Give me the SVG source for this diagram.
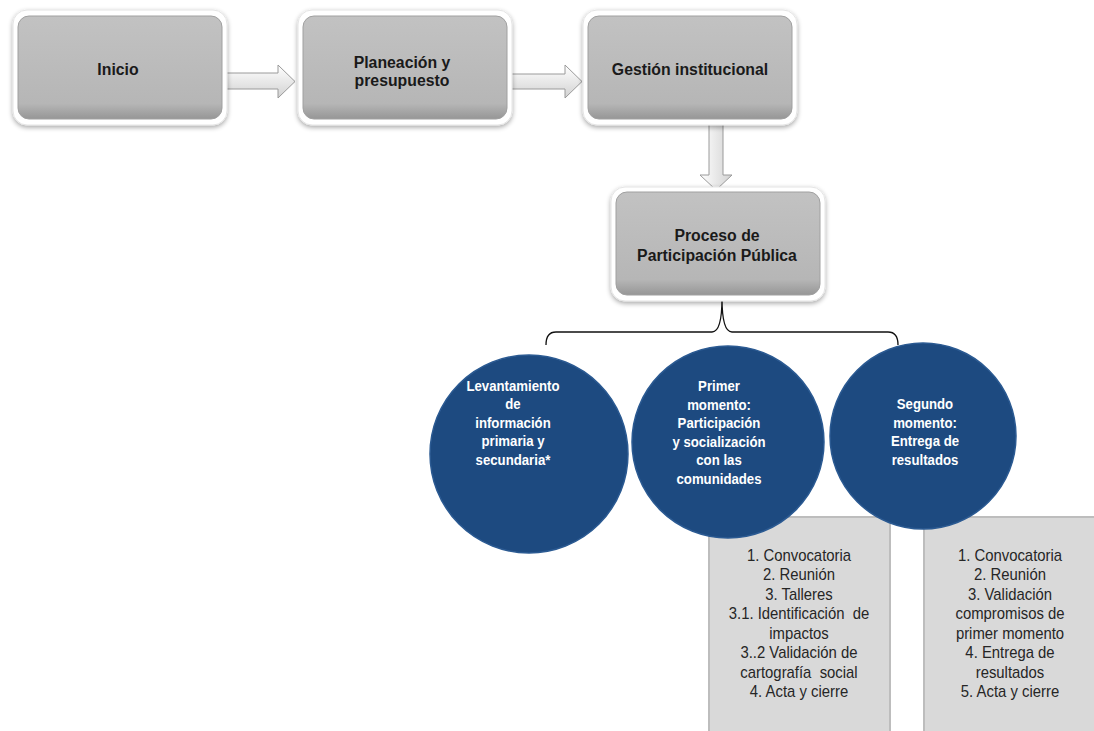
<svg xmlns="http://www.w3.org/2000/svg" width="1094" height="731" viewBox="0 0 1094 731">
<defs>
<linearGradient id="gBox" x1="0" y1="0" x2="0" y2="1">
<stop offset="0" stop-color="#c2c2c2"/>
<stop offset="0.85" stop-color="#b6b6b6"/>
<stop offset="1" stop-color="#969696"/>
</linearGradient>
<linearGradient id="gArrH" x1="0" y1="0" x2="0" y2="1">
<stop offset="0" stop-color="#ffffff"/>
<stop offset="1" stop-color="#d2d2d2"/>
</linearGradient>
<linearGradient id="gArrV" x1="0" y1="0" x2="1" y2="0">
<stop offset="0" stop-color="#ffffff"/>
<stop offset="1" stop-color="#d2d2d2"/>
</linearGradient>
<filter id="sh" x="-10%" y="-10%" width="120%" height="130%">
<feGaussianBlur in="SourceAlpha" stdDeviation="2.5"/>
<feOffset dy="2" result="b"/>
<feComponentTransfer><feFuncA type="linear" slope="0.35"/></feComponentTransfer>
<feMerge><feMergeNode/><feMergeNode in="SourceGraphic"/></feMerge>
</filter>
</defs>
<style>
.frame{fill:#ffffff;stroke:#e4e4e4;stroke-width:1}
.box{fill:url(#gBox);stroke:#a0a0a0;stroke-width:1}
.bt{font-family:"Liberation Sans",Arial,sans-serif;font-weight:bold;font-size:17px;fill:#1a1a1a;text-anchor:middle}
.circ{fill:#1d4a80;stroke:#2b5a92;stroke-width:1.5}
.ct{font-family:"Liberation Sans",Arial,sans-serif;font-weight:bold;font-size:15px;fill:#ffffff;text-anchor:middle}
.list{fill:#d9d9d9;stroke:#bdbdbd;stroke-width:2}
.lt{font-family:"Liberation Sans",Arial,sans-serif;font-size:16px;fill:#262626;text-anchor:middle}
.arrH{fill:url(#gArrH);stroke:#9a9a9a;stroke-width:1}
.arrV{fill:url(#gArrV);stroke:#9a9a9a;stroke-width:1}
.brace{fill:none;stroke:#111111;stroke-width:1.3}
</style>
<rect width="1094" height="731" fill="#ffffff"/>

<g id="connectors">
<polygon class="arrH" points="224,73 278,73 278,65 295,81.5 278,98 278,89 224,89"/>
<polygon class="arrH" points="510,74 565,74 565,65 582,81.5 565,98 565,89 510,89"/>
<polygon class="arrV" points="709,122 723,122 723,175 732,175 716,190 700,175 709,175"/>
<path class="brace" d="M546,345 Q546,332 556,332 L712,332 Q722,332 722,298 Q722,332 732,332 L888,332 Q898,332 898,345"/>
</g>

<g id="node-inicio">
<rect class="frame" x="13" y="10" width="214" height="115" rx="14" filter="url(#sh)"/>
<rect class="box" x="18" y="16" width="204" height="103" rx="11"/>
<g transform="matrix(0.93,0,0,1,8.26,0)">
<text class="bt" x="118" y="75">Inicio</text>
</g>
</g>

<g id="node-planeacion">
<rect class="frame" x="298" y="10" width="214" height="115" rx="14" filter="url(#sh)"/>
<rect class="box" x="303" y="16" width="204" height="103" rx="11"/>
<g transform="matrix(0.93,0,0,1,28.14,0)">
<text class="bt" x="402" y="68">Planeación y</text>
<text class="bt" x="402" y="86">presupuesto</text>
</g>
</g>

<g id="node-gestion">
<rect class="frame" x="583" y="10" width="214" height="115" rx="14" filter="url(#sh)"/>
<rect class="box" x="588" y="16" width="204" height="103" rx="11"/>
<g transform="matrix(0.93,0,0,1,48.3,0)">
<text class="bt" x="690" y="75">Gestión institucional</text>
</g>
</g>

<g id="node-proceso">
<rect class="frame" x="611" y="187" width="214" height="114" rx="14" filter="url(#sh)"/>
<rect class="box" x="616" y="192" width="204" height="103" rx="11"/>
<g transform="matrix(0.93,0,0,1,50.19,0)">
<text class="bt" x="717" y="241">Proceso de</text>
<text class="bt" x="717" y="261">Participación Pública</text>
</g>
</g>

<g id="list-primer">
<rect class="list" x="709" y="517" width="181" height="220"/>
<g transform="matrix(0.93,0,0,1,55.93,0)">
<text class="lt" x="799" y="561">1. Convocatoria</text>
<text class="lt" x="799" y="580.5">2. Reunión</text>
<text class="lt" x="799" y="600">3. Talleres</text>
<text class="lt" x="799" y="619.5" xml:space="preserve">3.1. Identificación  de</text>
<text class="lt" x="799" y="639">impactos</text>
<text class="lt" x="799" y="658.5">3..2 Validación de</text>
<text class="lt" x="799" y="678" xml:space="preserve">cartografía  social</text>
<text class="lt" x="799" y="697.5">4. Acta y cierre</text>
</g>
</g>

<g id="list-segundo">
<rect class="list" x="924" y="517" width="171" height="220"/>
<g transform="matrix(0.93,0,0,1,70.7,0)">
<text class="lt" x="1010" y="561">1. Convocatoria</text>
<text class="lt" x="1010" y="580.5">2. Reunión</text>
<text class="lt" x="1010" y="600">3. Validación</text>
<text class="lt" x="1010" y="619.5">compromisos de</text>
<text class="lt" x="1010" y="639">primer momento</text>
<text class="lt" x="1010" y="658.5">4. Entrega de</text>
<text class="lt" x="1010" y="678">resultados</text>
<text class="lt" x="1010" y="697.5">5. Acta y cierre</text>
</g>
</g>

<g id="node-levantamiento">
<circle class="circ" cx="529" cy="454" r="99"/>
<g transform="matrix(0.88,0,0,1,61.56,0)">
<text class="ct" x="513" y="391">Levantamiento</text>
<text class="ct" x="513" y="409.5">de</text>
<text class="ct" x="513" y="428">información</text>
<text class="ct" x="513" y="446.5">primaria y</text>
<text class="ct" x="513" y="465">secundaria*</text>
</g>
</g>

<g id="node-primer">
<circle class="circ" cx="728" cy="442" r="96"/>
<g transform="matrix(0.88,0,0,1,86.28,0)">
<text class="ct" x="719" y="391.5">Primer</text>
<text class="ct" x="719" y="410">momento:</text>
<text class="ct" x="719" y="428.5">Participación</text>
<text class="ct" x="719" y="447">y socialización</text>
<text class="ct" x="719" y="465.5">con las</text>
<text class="ct" x="719" y="484.5">comunidades</text>
</g>
</g>

<g id="node-segundo">
<circle class="circ" cx="923" cy="436" r="93"/>
<g transform="matrix(0.88,0,0,1,111,0)">
<text class="ct" x="925" y="409.5">Segundo</text>
<text class="ct" x="925" y="428">momento:</text>
<text class="ct" x="925" y="446.5">Entrega de</text>
<text class="ct" x="925" y="465.5">resultados</text>
</g>
</g>
</svg>
